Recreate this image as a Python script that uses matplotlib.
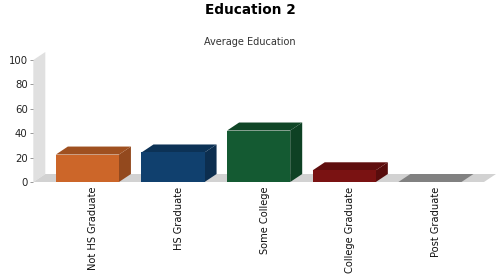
import matplotlib
matplotlib.use("Agg")
import matplotlib.pyplot as plt
from matplotlib.patches import Polygon, Rectangle
import matplotlib.transforms as mtransforms

categories = ["Not HS Graduate", "HS Graduate", "Some College", "College Graduate", "Post Graduate"]
values = [22.5, 24.2, 42.2, 9.6, 0.0]
colors = ["#CC6629", "#10406E", "#145A32", "#7A1212", "#A6A6A6"]
yticks = [0, 20, 40, 60, 80, 100]

W_PX, H_PX, DPI = 500, 280, 100
fig = plt.figure(figsize=(W_PX / DPI, H_PX / DPI), dpi=DPI)
fig.patch.set_facecolor("white")

# front plane of the plot area in pixels
left_px, right_px = 33.3, 484.0
top_px, bottom_px = 60.0, 182.0
ax = fig.add_axes([left_px / W_PX, 1 - bottom_px / H_PX,
                   (right_px - left_px) / W_PX, (bottom_px - top_px) / H_PX])
ax.set_facecolor("none")

n = len(categories)
# category axis margins: 5% lower/upper, 20% between categories
span = 1 / 0.19
x_lo = -0.12 * span
ax.set_xlim(x_lo, x_lo + span)
ax.set_ylim(0, 100)
bar_w = 0.14 * span

# 3D depth offset (12 px right, 8 px up) expressed in data units
dx = 12 * span / (right_px - left_px)
dy = 8 * 100 / (bottom_px - top_px)

def darker(c, f=0.72):
    r, g, b = matplotlib.colors.to_rgb(c)
    return (r * f, g * f, b * f)

x0, x1 = ax.get_xlim()
wall = Polygon([(x0, 0), (x0, 100), (x0 + dx, 100 + dy), (x0 + dx, dy)],
               closed=True, facecolor="#E0E0E0", edgecolor="none", clip_on=False, zorder=1)
floor = Polygon([(x0, 0), (x1, 0), (x1 + dx, dy), (x0 + dx, dy)],
                closed=True, facecolor="#D2D2D2", edgecolor="none", clip_on=False, zorder=1)
ax.add_patch(wall)
ax.add_patch(floor)

for i, (v, c) in enumerate(zip(values, colors)):
    xl, xr = i - bar_w / 2, i + bar_w / 2
    side = Polygon([(xr, 0), (xr, v), (xr + dx, v + dy), (xr + dx, dy)],
                   closed=True, facecolor=darker(c, 0.72), edgecolor="none", clip_on=False, zorder=2)
    top = Polygon([(xl, v), (xr, v), (xr + dx, v + dy), (xl + dx, v + dy)],
                  closed=True, facecolor=darker(c, 0.78), edgecolor="none", clip_on=False, zorder=2)
    ax.add_patch(side)
    ax.add_patch(top)
    ax.add_patch(Rectangle((xl, 0), bar_w, v, facecolor=c, edgecolor="none", clip_on=False, zorder=3))

for s in ax.spines.values():
    s.set_visible(False)

ax.set_yticks(yticks)
ax.set_yticklabels([str(t) for t in yticks], fontsize=7.3, color="#222222")
ax.tick_params(axis="y", length=2.5, width=0.6, color="#888888", pad=1.5)
ax.set_xticks([])

# category labels, centred on bar plus half the depth offset
lbl_tf = mtransforms.blended_transform_factory(ax.transData, ax.transAxes) + \
    mtransforms.ScaledTranslation(6 / DPI, -4.5 / DPI, fig.dpi_scale_trans)
for i, name in enumerate(categories):
    ax.text(i, 0, name, transform=lbl_tf, rotation=90, ha="center", va="top",
            fontsize=7.1, color="#111111")

fig.text(0.5, 1 - 10 / H_PX, "Education 2", ha="center", va="center",
         fontsize=9.8, fontweight="bold", color="#000000")
fig.text(0.5, 1 - 42 / H_PX, "Average Education", ha="center", va="center",
         fontsize=7.0, color="#333333")

fig.savefig("out.png", dpi=DPI, facecolor="white")
